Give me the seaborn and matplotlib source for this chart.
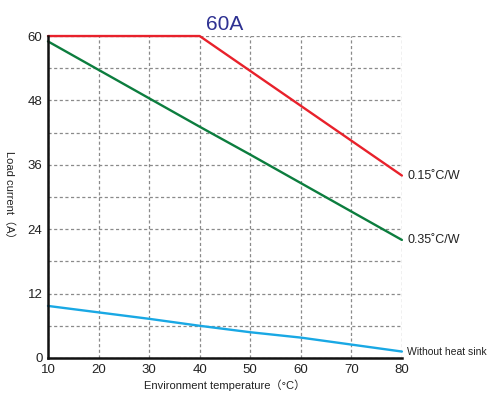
import numpy as np
import pandas as pd
import matplotlib
matplotlib.use("Agg")
import matplotlib.pyplot as plt
import seaborn as sns

temps = [10, 20, 30, 40, 50, 60, 70, 80]
red_vals = [60, 60, 60, 60, 53.5, 47, 40.5, 34]
green_vals = [59, 53.7, 48.4, 43.1, 37.9, 32.6, 27.3, 22]
blue_vals = [9.7, 8.5, 7.3, 6.0, 4.8, 3.8, 2.5, 1.2]
series_names = ["0.15˚C/W", "0.35˚C/W", "Without heat sink"]
colors = ["#e8212b", "#0c7d3e", "#19a8e4"]

sns.set_theme(style="white")
plt.rcParams['font.family'] = ['Liberation Sans', 'Noto Sans CJK SC', 'DejaVu Sans']

df = pd.DataFrame({
    "temp": temps * 3,
    "val": red_vals + green_vals + blue_vals,
    "series": [series_names[0]] * 8 + [series_names[1]] * 8 + [series_names[2]] * 8,
})

fig = plt.figure(figsize=(5.02, 3.96), dpi=100)
ax = fig.add_axes([0.0956, 0.096, 0.705, 0.813])
sns.lineplot(data=df, x="temp", y="val", hue="series", palette=colors,
             linewidth=1.7, ax=ax, legend=False, zorder=3)
for ln in ax.get_lines():
    ln.set_clip_on(False)

ax.set_xlim(10, 80)
ax.set_ylim(0, 60)
ax.set_xticks([10, 20, 30, 40, 50, 60, 70, 80])
ax.set_yticks([0, 12, 24, 36, 48, 60])
ax.set_yticks(np.arange(0, 61, 6), minor=True)
ax.grid(True, which="both", axis="y", color="#8a8a8a", linestyle=(0, (2.5, 2)), linewidth=0.9)
ax.grid(True, which="major", axis="x", color="#8a8a8a", linestyle=(0, (2.5, 2)), linewidth=0.9)
ax.tick_params(axis="both", which="both", length=0, labelsize=9.5, colors="#222222", pad=4)
for s in ["top", "right"]:
    ax.spines[s].set_visible(False)
for s in ["left", "bottom"]:
    ax.spines[s].set_color("#111111")
    ax.spines[s].set_linewidth(1.8)
    ax.spines[s].set_zorder(4)

ax.set_xlabel("Environment temperature（°C）", fontsize=8, color="#222222", labelpad=3)
ax.set_ylabel("Load current（A）", fontsize=8, color="#222222", rotation=-90, va="center")
ax.yaxis.set_label_coords(-0.11, 0.5)
ax.set_title("60A", fontsize=15, color="#2e3192", pad=4)

ends = [red_vals[-1], green_vals[-1], blue_vals[-1]]
for name, y in zip(series_names, ends):
    fs = 9 if "heat" not in name else 7.5
    ax.annotate(name, xy=(80, y), xytext=(4, 0), textcoords="offset points",
                va="center", ha="left", fontsize=fs, color="#222222", annotation_clip=False)

fig.savefig("out.png", dpi=100)
